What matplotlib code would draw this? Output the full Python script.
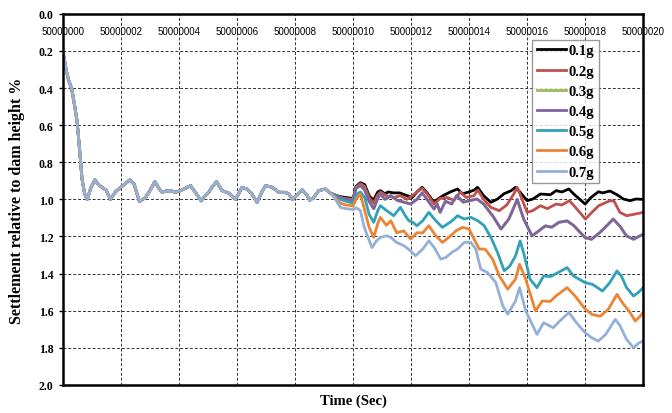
import numpy as np
import matplotlib
matplotlib.use('Agg')
import matplotlib.pyplot as plt

# shared part of the record (all runs overlap here)
t_common = [0.00, 0.10, 0.19, 0.29, 0.40, 0.48, 0.56, 0.65, 0.74, 0.83, 0.95, 1.09, 1.22, 1.34,
            1.48, 1.63, 1.80, 1.98, 2.15, 2.30, 2.45, 2.63, 2.84, 3.00, 3.16, 3.30, 3.41, 3.55,
            3.70, 3.87, 4.04, 4.16, 4.39, 4.55, 4.76, 4.90, 5.02, 5.15, 5.29, 5.48, 5.71, 5.94,
            6.05, 6.17, 6.35, 6.50, 6.69, 6.85, 6.98, 7.21, 7.44, 7.65, 7.78, 7.90, 8.05, 8.24,
            8.40, 8.50, 8.64, 8.81, 9.04, 9.20]
v_common = [0.21, 0.30, 0.36, 0.40, 0.50, 0.58, 0.72, 0.89, 0.97, 1.00, 0.94, 0.895, 0.92, 0.935,
            0.95, 1.00, 0.96, 0.935, 0.915, 0.895, 0.92, 1.012, 0.99, 0.95, 0.905, 0.94, 0.962, 0.955,
            0.953, 0.962, 0.953, 0.944, 0.926, 0.96, 1.008, 0.98, 0.962, 0.93, 0.905, 0.953, 0.966, 1.00,
            0.97, 0.935, 0.945, 0.97, 1.016, 0.96, 0.926, 0.935, 0.962, 0.962, 0.97, 1.00, 0.98, 0.948,
            0.975, 1.005, 0.99, 0.953, 0.944, 0.965]

t_01 = [9.35, 9.55, 9.75, 10.0, 10.1, 10.25, 10.4, 10.55, 10.7, 10.85, 10.94, 11.1, 11.2, 11.4,
        11.6, 11.86, 12.04, 12.2, 12.38, 12.55, 12.79, 12.95, 13.1, 13.35, 13.6, 13.77, 14.0, 14.17,
        14.29, 14.5, 14.75, 14.98, 15.2, 15.45, 15.6, 15.75, 16.0, 16.2, 16.46, 16.8, 17.0, 17.2,
        17.44, 17.6, 18.0, 18.2, 18.46, 18.6, 18.86, 19.1, 19.32, 19.55, 19.75, 20.0]
v_01 = [0.975, 0.985, 0.99, 0.995, 0.93, 0.91, 0.92, 0.98, 1.005, 0.96, 0.953, 0.97, 0.96, 0.965,
        0.965, 0.98, 0.99, 0.96, 0.935, 0.965, 1.016, 0.995, 0.98, 0.96, 0.944, 0.97, 0.96, 0.95,
        0.935, 0.98, 1.016, 0.998, 0.97, 0.953, 0.935, 0.96, 1.007, 0.998, 0.971, 0.975, 0.953, 0.96,
        0.944, 0.97, 1.025, 0.99, 0.959, 0.965, 0.955, 0.975, 0.998, 1.007, 0.998, 1.0]

t_02 = [9.35, 9.55, 9.75, 10.0, 10.1, 10.25, 10.4, 10.55, 10.7, 10.85, 10.94, 11.15, 11.4, 11.63,
        11.86, 12.04, 12.2, 12.38, 12.6, 12.79, 13.0, 13.25, 13.47, 13.7, 13.9, 14.17, 14.3, 14.5,
        14.75, 15.04, 15.3, 15.54, 15.66, 15.8, 16.0, 16.2, 16.46, 16.7, 17.0, 17.2, 17.46, 17.65,
        18.01, 18.2, 18.47, 18.86, 19.0, 19.2, 19.43, 19.7, 20.0]
v_02 = [0.975, 0.99, 0.995, 1.0, 0.935, 0.915, 0.93, 0.99, 1.02, 0.975, 0.96, 0.98, 0.99, 0.98,
        1.0, 0.98, 0.96, 0.94, 0.98, 1.025, 0.995, 0.99, 1.005, 0.96, 0.99, 0.98, 0.95, 1.0,
        1.043, 1.061, 1.03, 0.971, 0.935, 0.99, 1.07, 1.06, 1.034, 1.05, 1.025, 1.03, 1.007, 1.04,
        1.106, 1.075, 1.034, 1.007, 1.01, 1.07, 1.088, 1.08, 1.07]

t_04 = [9.35, 9.55, 9.75, 10.0, 10.1, 10.25, 10.4, 10.55, 10.71, 10.85, 10.94, 11.1, 11.3, 11.52,
        11.75, 11.98, 12.2, 12.38, 12.55, 12.79, 12.9, 13.0, 13.18, 13.4, 13.57, 13.8, 14.04, 14.27,
        14.5, 14.81, 15.1, 15.37, 15.66, 15.88, 16.17, 16.4, 16.63, 16.85, 17.09, 17.38, 17.6, 18.0,
        18.22, 18.5, 18.74, 18.97, 19.2, 19.43, 19.67, 19.85, 20.0]
v_04 = [0.975, 0.99, 1.0, 1.005, 0.94, 0.925, 0.95, 1.01, 1.05, 0.995, 0.97, 1.0, 0.98, 1.005,
        1.015, 1.025, 1.0, 0.965, 1.0, 1.052, 1.025, 1.07, 1.01, 1.025, 0.98, 1.015, 1.006, 0.998,
        1.025, 1.088, 1.16, 1.106, 1.0, 1.106, 1.197, 1.17, 1.143, 1.15, 1.124, 1.116, 1.14, 1.206,
        1.215, 1.18, 1.143, 1.106, 1.145, 1.197, 1.215, 1.2, 1.188]

# 0.3g run lies under the 0.4g curve in the source figure
t_03 = list(t_04)
v_03 = list(v_04)

t_05 = [9.35, 9.55, 9.75, 10.0, 10.1, 10.25, 10.4, 10.55, 10.71, 10.85, 10.94, 11.15, 11.4, 11.63,
        11.8, 11.92, 12.06, 12.2, 12.4, 12.61, 12.85, 13.08, 13.25, 13.42, 13.6, 13.83, 14.06, 14.3,
        14.52, 14.75, 14.98, 15.21, 15.4, 15.6, 15.76, 15.9, 16.1, 16.34, 16.57, 16.8, 17.0, 17.38,
        17.6, 18.0, 18.25, 18.6, 18.85, 19.1, 19.25, 19.43, 19.67, 19.85, 20.0]
v_05 = [0.98, 1.0, 1.01, 1.02, 0.975, 0.96, 0.99, 1.08, 1.124, 1.06, 1.034, 1.06, 1.088, 1.043,
        1.088, 1.115, 1.124, 1.142, 1.115, 1.07, 1.115, 1.151, 1.133, 1.115, 1.088, 1.106, 1.097, 1.115,
        1.142, 1.205, 1.286, 1.385, 1.36, 1.305, 1.224, 1.30, 1.43, 1.476, 1.413, 1.416, 1.40, 1.368,
        1.413, 1.449, 1.458, 1.494, 1.449, 1.386, 1.413, 1.476, 1.521, 1.50, 1.476]

t_06 = [9.35, 9.55, 9.75, 10.0, 10.1, 10.25, 10.4, 10.55, 10.71, 10.85, 10.94, 11.15, 11.3, 11.5,
        11.75, 11.98, 12.2, 12.4, 12.61, 12.85, 13.08, 13.3, 13.55, 13.77, 14.0, 14.17, 14.35, 14.55,
        14.81, 15.04, 15.33, 15.6, 15.74, 15.95, 16.29, 16.52, 16.8, 17.0, 17.38, 17.65, 18.01, 18.24,
        18.52, 18.8, 19.1, 19.3, 19.55, 19.73, 19.9, 20.0]
v_06 = [0.985, 1.02, 1.03, 1.035, 1.0, 0.97, 1.06, 1.15, 1.205, 1.13, 1.097, 1.14, 1.115, 1.18,
        1.17, 1.214, 1.18, 1.18, 1.142, 1.196, 1.232, 1.205, 1.169, 1.151, 1.16, 1.214, 1.268, 1.268,
        1.322, 1.412, 1.484, 1.43, 1.35, 1.43, 1.602, 1.548, 1.55, 1.52, 1.476, 1.52, 1.593, 1.62,
        1.63, 1.593, 1.512, 1.56, 1.61, 1.656, 1.63, 1.61]

t_07 = [9.35, 9.56, 9.75, 10.0, 10.1, 10.25, 10.37, 10.5, 10.65, 10.8, 10.94, 11.15, 11.3, 11.5,
        11.75, 11.98, 12.15, 12.4, 12.61, 12.8, 13.02, 13.2, 13.4, 13.6, 13.83, 14.06, 14.23, 14.4,
        14.63, 14.92, 15.16, 15.33, 15.6, 15.74, 15.95, 16.34, 16.57, 16.9, 17.1, 17.44, 17.7, 18.0,
        18.22, 18.45, 18.7, 19.04, 19.2, 19.43, 19.67, 19.85, 20.0]
v_07 = [0.99, 1.043, 1.05, 1.055, 1.045, 1.06, 1.143, 1.20, 1.26, 1.225, 1.205, 1.196, 1.205, 1.232,
        1.25, 1.277, 1.304, 1.268, 1.223, 1.26, 1.322, 1.313, 1.286, 1.268, 1.232, 1.232, 1.268, 1.376,
        1.394, 1.448, 1.574, 1.619, 1.548, 1.476, 1.60, 1.728, 1.665, 1.692, 1.66, 1.61, 1.665, 1.719,
        1.745, 1.764, 1.73, 1.647, 1.68, 1.755, 1.80, 1.775, 1.764]

labels = ['0.1g', '0.2g', '0.3g', '0.4g', '0.5g', '0.6g', '0.7g']
colors = ['#000000', '#C0504D', '#9BBB59', '#8064A2', '#31A0B8', '#EB8434', '#95B0D8']
runs = [(t_01, v_01), (t_02, v_02), (t_03, v_03), (t_04, v_04),
        (t_05, v_05), (t_06, v_06), (t_07, v_07)]

t0 = 50000000
serif = 'Liberation Serif'

fig = plt.figure(figsize=(6.72, 4.14), dpi=100)
ax = fig.add_axes([0.094, 0.068, 0.863, 0.896])

for (t, v), lab, col in zip(runs, labels, colors):
    tt = np.array(t_common + t) + t0
    vv = np.array(v_common + v)
    ax.plot(tt, vv, color=col, lw=2.0, label=lab, solid_joinstyle='round')

ax.set_xlim(t0, t0 + 20)
ax.set_ylim(2.0, 0.0)
ax.set_xticks(np.arange(t0, t0 + 21, 2))
ax.set_xticklabels([str(t0 + k) for k in range(0, 21, 2)], family='Liberation Sans', fontsize=7)
ax.set_yticks(np.arange(0, 2.01, 0.2))
ax.set_yticklabels(['%.1f' % y for y in np.arange(0, 2.01, 0.2)],
                   family=serif, fontsize=8.5, fontweight='bold')

ax.xaxis.set_ticks_position('top')
ax.tick_params(axis='x', length=0, pad=-16, labeltop=True, labelbottom=False)
ax.tick_params(axis='y', direction='out', length=3, width=1, pad=4)

ax.grid(True, color='#333333', lw=0.7, linestyle=(0, (3, 2)))
for s in ax.spines.values():
    s.set_linewidth(1.8)

ax.set_ylabel('Settlement relative to dam height %', family=serif, fontsize=11.5,
              fontweight='bold', labelpad=10)
ax.set_xlabel('Time (Sec)', family=serif, fontsize=10.5, fontweight='bold', labelpad=6)

leg = ax.legend(loc='upper left', bbox_to_anchor=(0.809, 0.93), frameon=True, fancybox=False,
                edgecolor='#808080', prop={'family': serif, 'weight': 'bold', 'size': 10.5},
                handlelength=2.0, handletextpad=0.2, labelspacing=0.48, borderpad=0.3,
                borderaxespad=0)
leg.get_frame().set_linewidth(1.0)

fig.savefig('out.png', dpi=100)
